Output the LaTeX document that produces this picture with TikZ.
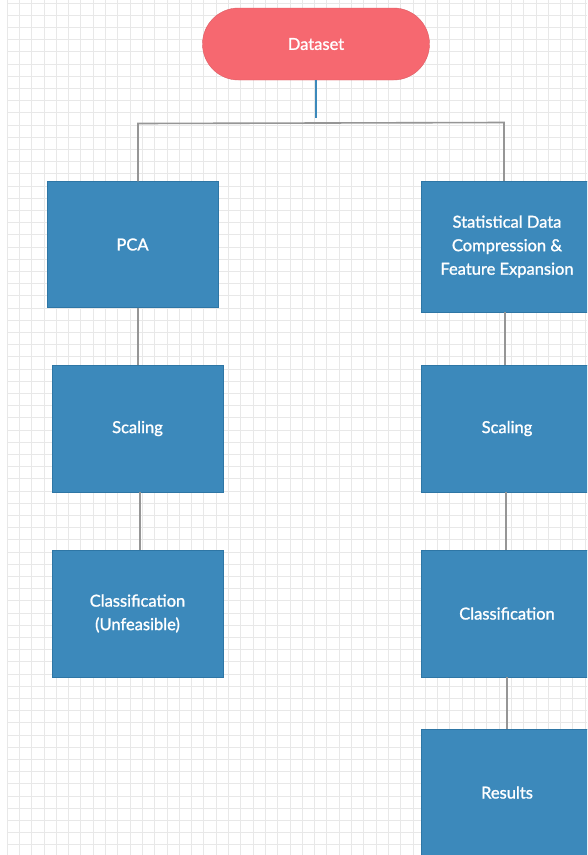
\documentclass[tikz,border=0pt]{standalone}
\usepackage{fontspec}
\setmainfont{Lato}
\newfontfamily\boxfont{Lato}[AutoFakeBold=1.3]
\usepackage{tikz}

\definecolor{boxblue}{RGB}{60,137,187}
\definecolor{boxedge}{RGB}{46,118,165}
\definecolor{termred}{RGB}{246,104,112}
\definecolor{gridgray}{RGB}{232,232,232}
\definecolor{linkgray}{RGB}{150,150,150}

\begin{document}
\begin{tikzpicture}[x=1pt,y=-1pt,
        box/.style={rectangle,draw=boxedge,fill=boxblue,text=white,
          minimum width=171pt,minimum height=127pt,inner sep=0pt,align=center,
          font=\boxfont\bfseries\fontsize{16.5}{23.5}\selectfont},
        term/.style={rectangle,rounded corners=36pt,draw=termred!90!black,fill=termred,
          text=white,minimum width=227pt,minimum height=72pt,
          font=\boxfont\bfseries\fontsize{16.5}{23.5}\selectfont},
        link/.style={draw=linkgray,line width=1.6pt}]
        \useasboundingbox (0,0) rectangle (587,855);
        \clip (0,0) rectangle (587,855);
        \fill[white] (0,0) rectangle (587,855);
        % background grid
        \foreach \i in {0,...,47} {
          \draw[gridgray,line width=0.8pt] (7+12.3*\i,0) -- (7+12.3*\i,855);
        }
        \foreach \j in {0,...,70} {
          \draw[gridgray,line width=0.8pt] (7,3+12.2*\j) -- (587,3+12.2*\j);
        }

        \node [term] (data) at (316,44) {Dataset};

        \node [box,minimum height=126pt] (pca) at (132.5,244.5) {PCA};
        \node [box] (scl1) at (137.5,428.5) {Scaling};
        \node [box] (cls1) at (137.5,613.5) {Classification\\(Unfeasible)};

        \node [box,minimum height=131pt] (sdc) at (507,246.5) {Statistical Data\\Compression \&\\Feature Expansion};
        \node [box] (scl2) at (507,428.5) {Scaling};
        \node [box] (cls2) at (507,613.5) {Classification};
        \node [box] (res) at (507,792.5) {Results};

        \coordinate (hub) at (316,118);
        \coordinate (lbr) at (138,123.5);
        \coordinate (rbr) at (504,122.5);

        \draw [draw=boxblue,line width=1.8pt] (data.south) -- (hub);
        \draw [link] (pca.north -| lbr) -- (lbr) -- (rbr) -- (sdc.north -| rbr);
        \draw [link] (pca.south -| lbr) -- (scl1.north -| lbr);
        \draw [link] (scl1.south -| 140,0) -- (cls1.north -| 140,0);
        \draw [link] (sdc.south -| 505,0) -- (scl2.north -| 505,0);
        \draw [link] (scl2.south -| 506,0) -- (cls2.north -| 506,0);
        \draw [link] (cls2.south) -- (res.north);

    \end{tikzpicture}
\end{document}
